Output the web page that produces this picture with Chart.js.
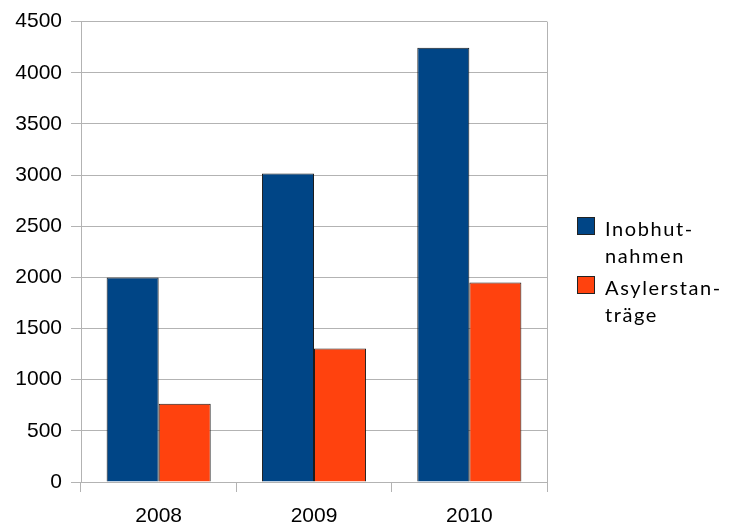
<!DOCTYPE html>
<html>
<head>
<meta charset="utf-8">
<script src="https://cdn.jsdelivr.net/npm/chart.js@4"></script>
<style>
  html, body { margin: 0; padding: 0; background: #fff; }
  #wrap { position: relative; width: 732px; height: 524px; }
  #legend { position: absolute; left: 577px; top: 215px; font-family: Lato, "Liberation Sans", sans-serif; font-size: 20px; letter-spacing: 1.6px; color: #000; line-height: 27px; }
  .item { position: relative; padding-left: 28px; margin-bottom: 5px; white-space: nowrap; }
  .box { position: absolute; left: 0; top: 2px; width: 16px; height: 16px; border: 1px solid #222; }
</style>
</head>
<body>
<div id="wrap">
  <canvas id="myChart" width="732" height="524"></canvas>
  <div id="legend"></div>
</div>
<script>
const years = ['2008', '2009', '2010'];
const inobhut = [2000, 3015, 4245];
const asyl = [765, 1305, 1950];
const legendLines = [['Inobhut-', 'nahmen'], ['Asylerstan-', 'träge']];
const colors = ['#004586', '#ff420e'];

// right edge of the plot frame
const frame = {
  id: 'frame',
  afterDraw(chart) {
    const a = chart.chartArea, c = chart.ctx;
    c.save();
    c.strokeStyle = '#b3b3b3';
    c.lineWidth = 1;
    c.beginPath();
    c.moveTo(Math.round(a.right) + 0.5, a.top);
    c.lineTo(Math.round(a.right) + 0.5, a.bottom);
    c.stroke();
    c.restore();
  }
};

const data = {
  labels: years,
  datasets: [{
    label: 'Inobhutnahmen',
    backgroundColor: colors[0],
    borderColor: '#1c1c1c',
    borderWidth: 1,
    data: inobhut,
  }, {
    label: 'Asylerstanträge',
    backgroundColor: colors[1],
    borderColor: '#1c1c1c',
    borderWidth: 1,
    data: asyl,
  }]
};

const config = {
  type: 'bar',
  data: data,
  options: {
    responsive: false,
    animation: false,
    layout: { padding: { left: 0, top: 20, right: 185, bottom: 0 } },
    datasets: { bar: { categoryPercentage: 0.67, barPercentage: 1 } },
    plugins: { legend: { display: false }, tooltip: { enabled: false } },
    scales: {
      x: {
        afterFit(s) { s.height = 42; },
        grid: { drawOnChartArea: false, color: '#b3b3b3', tickLength: 10 },
        border: { color: '#b3b3b3' },
        ticks: { color: '#000', padding: 12, font: { family: 'Liberation Sans', size: 21 } }
      },
      y: {
        min: 0, max: 4500,
        afterFit(s) { s.width = 81; },
        grid: { color: '#b3b3b3', tickLength: 10 },
        border: { color: '#b3b3b3' },
        ticks: {
          stepSize: 500, color: '#000', padding: 9,
          font: { family: 'Liberation Sans', size: 21 },
          callback: v => String(v)
        }
      }
    }
  },
  plugins: [frame]
};

const myChart = new Chart(document.getElementById('myChart'), config);

const legend = document.getElementById('legend');
legendLines.forEach((lines, i) => {
  const item = document.createElement('div');
  item.className = 'item';
  item.innerHTML = `<span class="box" style="background:${colors[i]}"></span>${lines.join('<br>')}`;
  legend.appendChild(item);
});
</script>
</body>
</html>
